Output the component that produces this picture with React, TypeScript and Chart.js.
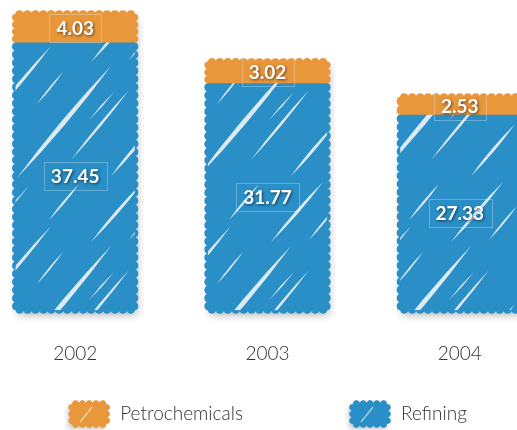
import React, { useEffect, useRef } from 'react';
import { Chart, registerables } from 'chart.js';

Chart.register(...registerables);

const categories = ['2002', '2003', '2004'];
const refiningValues = [37.45, 31.77, 27.33];
const petrochemicalValues = [4.03, 3.02, 2.53];
const legendNames = ['Petrochemicals', 'Refining'];

const BLUE = '#2a8fc6';
const ORANGE = '#e8973b';

// decorative streaks in pattern tile coordinates: x0, y0, x1, y1, halfWidth
const STREAKS: number[][] = [
  [8, 122, 72, 46, 1.6],
  [38, 178, 132, 66, 2.4],
  [92, 160, 150, 90, 1.3],
  [112, 62, 164, 2, 1.6],
  [2, 82, 32, 46, 1.0],
  [132, 176, 176, 124, 1.5],
  [58, 104, 84, 72, 0.9],
  [150, 60, 178, 26, 1.0],
  [20, 40, 50, 6, 0.8],
  [70, 40, 100, 4, 1.1],
  [4, 170, 30, 140, 0.9],
  [110, 120, 135, 92, 0.8],
];

const TILE = 180;

function makePattern(ctx: CanvasRenderingContext2D, color: string, streaks: number[][]) {
  const c = document.createElement('canvas');
  c.width = TILE;
  c.height = TILE;
  const g = c.getContext('2d')!;
  g.fillStyle = color;
  g.fillRect(0, 0, TILE, TILE);
  g.fillStyle = 'rgba(236,242,246,0.92)';
  for (const s of streaks) {
    for (const ox of [-TILE, 0, TILE]) {
      for (const oy of [-TILE, 0, TILE]) {
        const x0 = s[0] + ox, y0 = s[1] + oy, x1 = s[2] + ox, y1 = s[3] + oy, w = s[4];
        const mx = (x0 + x1) / 2, my = (y0 + y1) / 2;
        const len = Math.hypot(x1 - x0, y1 - y0);
        const nx = -(y1 - y0) / len, ny = (x1 - x0) / len;
        g.beginPath();
        g.moveTo(x0, y0);
        g.quadraticCurveTo(mx + nx * w * 2, my + ny * w * 2, x1, y1);
        g.quadraticCurveTo(mx - nx * w * 2, my - ny * w * 2, x0, y0);
        g.fill();
      }
    }
  }
  return ctx.createPattern(c, 'repeat')!;
}

// scalloped outline (rounded bumps) around a rectangle
function wavyPath(ctx: CanvasRenderingContext2D, l: number, t: number, r: number, b: number, amp = 3.2, period = 8) {
  const edges = [
    { x0: l, y0: t, x1: r, y1: t, nx: 0, ny: -1 },
    { x0: r, y0: t, x1: r, y1: b, nx: 1, ny: 0 },
    { x0: r, y0: b, x1: l, y1: b, nx: 0, ny: 1 },
    { x0: l, y0: b, x1: l, y1: t, nx: -1, ny: 0 },
  ];
  let first = true;
  for (const e of edges) {
    const len = Math.hypot(e.x1 - e.x0, e.y1 - e.y0);
    const n = Math.max(1, Math.round(len / period));
    const per = len / n;
    const steps = Math.max(2, Math.round(len * 2));
    for (let s = 0; s <= steps; s++) {
      const d = (len * s) / steps;
      const u = (d % per) / per;
      const k = 2 * u - 1;
      const off = 0.3 + amp * Math.sqrt(Math.max(0, 1 - k * k));
      const x = e.x0 + ((e.x1 - e.x0) * s) / steps + e.nx * off;
      const y = e.y0 + ((e.y1 - e.y0) * s) / steps + e.ny * off;
      if (first) {
        ctx.moveTo(x, y);
        first = false;
      } else ctx.lineTo(x, y);
    }
  }
  ctx.closePath();
}

function rectOf(el: any) {
  const p = el.getProps(['x', 'y', 'base', 'width'], true);
  return {
    l: p.x - p.width / 2,
    r: p.x + p.width / 2,
    t: Math.min(p.y, p.base),
    b: Math.max(p.y, p.base),
    x: p.x,
  };
}

const sketchPlugin = {
  id: 'sketch',
  beforeDatasetsDraw(chart: any) {
    const ctx = chart.ctx as CanvasRenderingContext2D;
    ctx.save();
    ctx.shadowColor = 'rgba(0,0,0,0.32)';
    ctx.shadowBlur = 9;
    ctx.shadowOffsetX = 10000 + 2;
    ctx.shadowOffsetY = 5;
    ctx.fillStyle = '#000';
    chart.data.datasets.forEach((_: any, di: number) => {
      chart.getDatasetMeta(di).data.forEach((el: any) => {
        const q = rectOf(el);
        ctx.beginPath();
        ctx.rect(q.l - 10000, q.t, q.r - q.l, q.b - q.t);
        ctx.fill();
      });
    });
    ctx.restore();
    ctx.save();
    chart.data.datasets.forEach((ds: any, di: number) => {
      ctx.fillStyle = ds.edgeColor;
      chart.getDatasetMeta(di).data.forEach((el: any) => {
        const q = rectOf(el);
        ctx.beginPath();
        wavyPath(ctx, q.l, q.t, q.r, q.b);
        ctx.fill();
      });
    });
    ctx.restore();
  },
  afterDatasetsDraw(chart: any) {
    const ctx = chart.ctx as CanvasRenderingContext2D;
    ctx.save();
    chart.data.datasets.forEach((ds: any, di: number) => {
      chart.getDatasetMeta(di).data.forEach((el: any, i: number) => {
        const q = rectOf(el);
        const cy = (q.t + q.b) / 2;
        const txt = Number(ds.data[i]).toFixed(2);
        ctx.font = 'bold 19px Lato, "DejaVu Sans", sans-serif';
        const w = ctx.measureText(txt).width;
        ctx.strokeStyle = 'rgba(255,255,255,0.28)';
        ctx.lineWidth = 1;
        ctx.strokeRect(Math.round(q.x - w / 2 - 7) + 0.5, Math.round(cy - 14) + 0.5, Math.round(w + 14), 28);
        ctx.save();
        ctx.shadowColor = 'rgba(0,0,0,0.6)';
        ctx.shadowBlur = 3;
        ctx.shadowOffsetX = 1;
        ctx.shadowOffsetY = 1;
        ctx.fillStyle = '#ffffff';
        ctx.textAlign = 'center';
        ctx.textBaseline = 'middle';
        ctx.fillText(txt, q.x, cy + 1);
        ctx.restore();
      });
    });
    ctx.restore();
  },
  afterDraw(chart: any) {
    const ctx = chart.ctx as CanvasRenderingContext2D;
    ctx.save();
    ctx.font = '300 19px Lato, "DejaVu Sans", sans-serif';
    const swW = 42, gap = 10, itemGap = 106;
    const order = [1, 0]; // Petrochemicals first, then Refining
    const widths = order.map((_, k) => ctx.measureText(legendNames[k]).width);
    const total = widths.reduce((a, w) => a + swW + gap + w, 0) + itemGap * (order.length - 1);
    let x = chart.width / 2 - total / 2;
    const cy = chart.height - 16;
    order.forEach((di, k) => {
      const ds = chart.data.datasets[di];
      ctx.save();
      ctx.shadowColor = 'rgba(0,0,0,0.3)';
      ctx.shadowBlur = 6;
      ctx.shadowOffsetX = 10000 - 2;
      ctx.shadowOffsetY = 3;
      ctx.fillStyle = '#000';
      ctx.fillRect(x + 3 - 10000, cy - 11, swW - 6, 22);
      ctx.restore();
      ctx.fillStyle = ds.edgeColor;
      ctx.beginPath();
      wavyPath(ctx, x + 4, cy - 10, x + swW - 4, cy + 10, 3.5, 7);
      ctx.fill();
      ctx.strokeStyle = 'rgba(240,244,246,0.9)';
      ctx.lineWidth = 1.2;
      ctx.beginPath();
      ctx.moveTo(x + 12, cy + 8);
      ctx.lineTo(x + 24, cy - 7);
      ctx.stroke();
      ctx.fillStyle = '#333333';
      ctx.textAlign = 'left';
      ctx.textBaseline = 'middle';
      ctx.fillText(legendNames[k], x + swW + gap, cy);
      x += swW + gap + widths[k] + itemGap;
    });
    ctx.restore();
  },
};

export default function App() {
  const ref = useRef<HTMLCanvasElement>(null);
  useEffect(() => {
    const canvas = ref.current!;
    const ctx = canvas.getContext('2d')!;
    const bluePattern = makePattern(ctx, BLUE, STREAKS);
    const orangePattern = makePattern(ctx, ORANGE, []);
    const chart = new Chart(canvas, {
      type: 'bar',
      data: {
        labels: categories,
        datasets: [
          {
            label: legendNames[1],
            data: refiningValues,
            backgroundColor: bluePattern as any,
            edgeColor: BLUE,
            borderWidth: 0,
            barPercentage: 0.62,
            categoryPercentage: 1,
          } as any,
          {
            label: legendNames[0],
            data: petrochemicalValues,
            backgroundColor: orangePattern as any,
            edgeColor: ORANGE,
            borderWidth: 0,
            barPercentage: 0.62,
            categoryPercentage: 1,
          } as any,
        ],
      },
      options: {
        animation: false,
        responsive: true,
        maintainAspectRatio: false,
        layout: { padding: { top: 0, bottom: 33, left: 0, right: 0 } },
        plugins: {
          legend: { display: false },
          tooltip: { enabled: false },
        },
        scales: {
          x: {
            stacked: true,
            grid: { display: false, drawTicks: false },
            border: { display: false },
            ticks: {
              padding: 32,
              color: '#333333',
              font: { family: 'Lato', size: 19, weight: '300' as any },
            },
          },
          y: {
            stacked: true,
            display: false,
            min: 0,
            max: 43.4,
          },
        },
      },
      plugins: [sketchPlugin],
    });
    return () => chart.destroy();
  }, []);

  return (
    <div style={{ position: 'fixed', left: 0, top: 0, width: 517, height: 430, overflow: 'hidden', background: '#fff' }}>
      <div style={{ position: 'absolute', left: -21, top: 0, width: 577, height: 430 }}>
        <canvas ref={ref} />
      </div>
    </div>
  );
}
